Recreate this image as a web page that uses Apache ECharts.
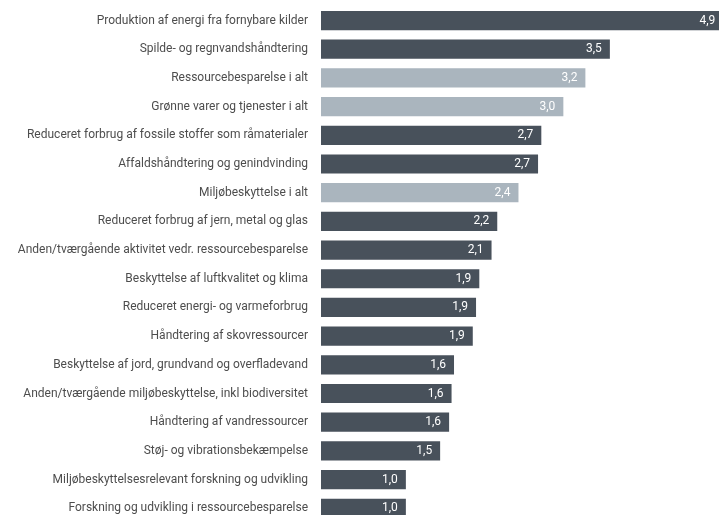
<!DOCTYPE html>
<html>
<head>
<meta charset="utf-8">
<script src="https://cdn.jsdelivr.net/npm/echarts@6/dist/echarts.min.js"></script>
<style>html,body{margin:0;padding:0;background:#fff}#c{width:719px;height:515px}</style>
</head>
<body>
<div id="c"></div>
<script>
const categories = [
  "Produktion af energi fra fornybare kilder",
  "Spilde- og regnvandshåndtering",
  "Ressourcebesparelse i alt",
  "Grønne varer og tjenester i alt",
  "Reduceret forbrug af fossile stoffer som råmaterialer",
  "Affaldshåndtering og genindvinding",
  "Miljøbeskyttelse i alt",
  "Reduceret forbrug af jern, metal og glas",
  "Anden/tværgående aktivitet vedr. ressourcebesparelse",
  "Beskyttelse af luftkvalitet og klima",
  "Reduceret energi- og varmeforbrug",
  "Håndtering af skovressourcer",
  "Beskyttelse af jord, grundvand og overfladevand",
  "Anden/tværgående miljøbeskyttelse, inkl biodiversitet",
  "Håndtering af vandressourcer",
  "Støj- og vibrationsbekæmpelse",
  "Miljøbeskyttelsesrelevant forskning og udvikling",
  "Forskning og udvikling i ressourcebesparelse"
];
const values = [4.93, 3.54, 3.24, 2.97, 2.70, 2.66, 2.42, 2.16, 2.09, 1.94, 1.90, 1.86, 1.63, 1.60, 1.57, 1.46, 1.04, 1.04];
const shownLabels = ["4,9","3,5","3,2","3,0","2,7","2,7","2,4","2,2","2,1","1,9","1,9","1,9","1,6","1,6","1,6","1,5","1,0","1,0"];
const totalRows = ["Ressourcebesparelse i alt", "Grønne varer og tjenester i alt", "Miljøbeskyttelse i alt"];

const DARK = '#48515b', LIGHT = '#aab5be';
const chart = echarts.init(document.getElementById('c'));
chart.setOption({
  animation: false,
  grid: { left: 321, top: 6.2, width: 408, height: 516.4, containLabel: false, outerBoundsMode: 'none' },
  xAxis: { type: 'value', min: 0, max: 5, show: false },
  yAxis: {
    type: 'category', data: categories, inverse: true,
    axisLine: { show: false }, axisTick: { show: false },
    axisLabel: { margin: 13, color: '#4d4d4d', fontFamily: 'Roboto', fontSize: 12 }
  },
  series: [{
    type: 'bar',
    barCategoryGap: '33%',
    data: values.map((v, i) => ({
      value: v,
      itemStyle: { color: totalRows.includes(categories[i]) ? LIGHT : DARK }
    })),
    label: {
      show: true, position: 'insideRight', distance: 8,
      color: '#ffffff', fontFamily: 'Roboto', fontSize: 12,
      formatter: p => shownLabels[p.dataIndex]
    }
  }]
});
</script>
</body>
</html>
